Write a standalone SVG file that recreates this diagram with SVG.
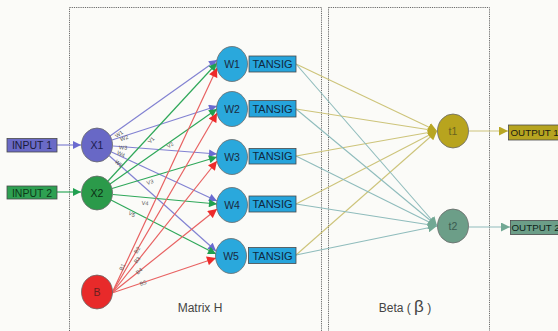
<svg xmlns="http://www.w3.org/2000/svg" width="558" height="331" viewBox="0 0 558 331">
<defs>
<style>
text{font-family:"Liberation Sans",Arial,sans-serif}
.frame{fill:none;stroke:#6a6a6a;stroke-width:1;stroke-dasharray:1.2 1}
.in{stroke:#4a4a4a;stroke-width:0.8}
.nd{stroke:#6a6a6a;stroke-width:0.8}
.lbl{font-size:10.5px;fill:#1a1a3a;text-anchor:middle}
.nl{font-size:10.5px;fill:#1a2a40;text-anchor:middle}
.ts{font-size:11px;fill:#10283c;text-anchor:middle}
.wl{font-size:5.5px;fill:#555;text-anchor:middle}
.cb{stroke:#8282d2;stroke-width:1.2;fill:none;marker-end:url(#mb)}
.cg{stroke:#2fa85a;stroke-width:1.2;fill:none;marker-end:url(#mg)}
.cr{stroke:#e86262;stroke-width:1.2;fill:none;marker-end:url(#mr)}
.co{stroke:#cdc47a;stroke-width:1.1;fill:none;marker-end:url(#mo)}
.ct{stroke:#8fbcbc;stroke-width:1.1;fill:none;marker-end:url(#mt)}
</style>
<marker id="mb" viewBox="0 0 10 10" refX="10" refY="5" markerWidth="9" markerHeight="8" markerUnits="userSpaceOnUse" orient="auto"><path d="M0,0L10,5L0,10z" fill="#6a6ad0"/></marker>
<marker id="mg" viewBox="0 0 10 10" refX="10" refY="5" markerWidth="9" markerHeight="8" markerUnits="userSpaceOnUse" orient="auto"><path d="M0,0L10,5L0,10z" fill="#20a050"/></marker>
<marker id="mr" viewBox="0 0 10 10" refX="10" refY="5" markerWidth="10" markerHeight="9" markerUnits="userSpaceOnUse" orient="auto"><path d="M0,0L10,5L0,10z" fill="#ee2a2a"/></marker>
<marker id="mo" viewBox="0 0 10 10" refX="10" refY="5" markerWidth="9" markerHeight="9" markerUnits="userSpaceOnUse" orient="auto"><path d="M0,0L10,5L0,10z" fill="#b8a624"/></marker>
<marker id="mt" viewBox="0 0 10 10" refX="10" refY="5" markerWidth="9" markerHeight="9" markerUnits="userSpaceOnUse" orient="auto"><path d="M0,0L10,5L0,10z" fill="#72a894"/></marker>
</defs>
<rect x="0" y="0" width="558" height="331" fill="#fbfbf8"/>
<rect class="frame" x="69.5" y="7.5" width="252" height="330"/>
<rect class="frame" x="328.5" y="7.5" width="161" height="330"/>
<text x="200" y="312" style="font-size:12px;fill:#444;text-anchor:middle">Matrix H</text>
<text x="405" y="312" style="font-size:12px;fill:#444;text-anchor:middle">Beta ( <tspan style="font-size:17px">β</tspan> )</text>

<g id="connectors">
<line class="cb" x1="57" y1="145" x2="81" y2="145"/>
<line class="cg" x1="57" y1="192" x2="81" y2="192"/>
<line class="cb" x1="110" y1="136" x2="217" y2="60"/>
<line class="cb" x1="112" y1="140" x2="217" y2="106"/>
<line class="cb" x1="113" y1="146" x2="217" y2="154"/>
<line class="cb" x1="111.5" y1="152" x2="217" y2="201"/>
<line class="cb" x1="109" y1="155.5" x2="216" y2="251"/>
<line class="cg" x1="108" y1="181" x2="217" y2="63"/>
<line class="cg" x1="110" y1="184" x2="217" y2="109"/>
<line class="cg" x1="112" y1="188.5" x2="217" y2="157"/>
<line class="cg" x1="113" y1="194.5" x2="217" y2="204"/>
<line class="cg" x1="111" y1="200" x2="216" y2="254"/>
<line class="cr" x1="112" y1="293" x2="217" y2="68"/>
<line class="cr" x1="112" y1="293" x2="217" y2="113"/>
<line class="cr" x1="112" y1="293" x2="217" y2="161"/>
<line class="cr" x1="112" y1="293" x2="217" y2="209"/>
<line class="cr" x1="112" y1="293" x2="216" y2="258"/>
<line class="co" x1="296" y1="64" x2="437" y2="131"/>
<line class="co" x1="296" y1="109" x2="437" y2="131"/>
<line class="co" x1="296" y1="156" x2="437" y2="131"/>
<line class="co" x1="296" y1="204" x2="437" y2="131"/>
<line class="co" x1="296" y1="255" x2="437" y2="131"/>
<line class="ct" x1="296" y1="64" x2="437" y2="226"/>
<line class="ct" x1="296" y1="109" x2="437" y2="226"/>
<line class="ct" x1="296" y1="156" x2="437" y2="226"/>
<line class="ct" x1="296" y1="204" x2="437" y2="226"/>
<line class="ct" x1="296" y1="255" x2="437" y2="226"/>
<line class="co" x1="469" y1="131" x2="508" y2="131"/>
<line class="ct" x1="469" y1="227" x2="510" y2="227"/>
<text class="wl" transform="translate(119,134) rotate(-35)" y="2">W1</text>
<text class="wl" transform="translate(124,138) rotate(-18)" y="2">W2</text>
<text class="wl" transform="translate(123,147.5) rotate(4)" y="2">W3</text>
<text class="wl" transform="translate(121,154) rotate(25)" y="2">W4</text>
<text class="wl" transform="translate(119,163.5) rotate(42)" y="2">W5</text>
<text class="wl" transform="translate(151,140) rotate(-47)" y="2">V1</text>
<text class="wl" transform="translate(170,145) rotate(-35)" y="2">V2</text>
<text class="wl" transform="translate(150,182) rotate(-17)" y="2">V3</text>
<text class="wl" transform="translate(145,203) rotate(5)" y="2">V4</text>
<text class="wl" transform="translate(132,214) rotate(27)" y="2">V5</text>
<text class="wl" transform="translate(122,267) rotate(-65)" y="2">B1</text>
<text class="wl" transform="translate(137,250) rotate(-60)" y="2">B2</text>
<text class="wl" transform="translate(137,260) rotate(-51)" y="2">B3</text>
<text class="wl" transform="translate(139,271) rotate(-39)" y="2">B4</text>
<text class="wl" transform="translate(143,283) rotate(-19)" y="2">B5</text>
</g>

<g id="input1"><rect class="in" x="7" y="138.5" width="50" height="13.5" fill="#6a6ac6"/><text class="lbl" x="32" y="149">INPUT 1</text></g>
<g id="input2"><rect class="in" x="7" y="186" width="50" height="13" fill="#2ea052"/><text class="lbl" x="32" y="196.5" style="fill:#0d3a18">INPUT 2</text></g>

<g id="x1"><ellipse class="nd" cx="97" cy="145" rx="15.5" ry="17" fill="#6868c6"/><text class="nl" x="97" y="149" style="fill:#1c1c50">X1</text></g>
<g id="x2"><ellipse class="nd" cx="97" cy="193" rx="15.5" ry="17" fill="#2b9a4a"/><text class="nl" x="97" y="197" style="fill:#0b2e14">X2</text></g>
<g id="b"><ellipse class="nd" cx="97" cy="292" rx="15.5" ry="17" fill="#e82a2a"/><text class="nl" x="97" y="296" style="fill:#6a2020">B</text></g>

<g id="w1"><ellipse class="nd" cx="232" cy="64" rx="15.5" ry="17.5" fill="#2aa8dc"/><text class="nl" x="232" y="68">W1</text><rect class="in" x="249" y="56" width="47" height="16" fill="#26a4dc"/><text class="ts" x="272.5" y="68">TANSIG</text></g>
<g id="w2"><ellipse class="nd" cx="232" cy="109" rx="15.5" ry="17.5" fill="#2aa8dc"/><text class="nl" x="232" y="113">W2</text><rect class="in" x="249" y="100.5" width="47" height="16.5" fill="#26a4dc"/><text class="ts" x="272.5" y="112.5">TANSIG</text></g>
<g id="w3"><ellipse class="nd" cx="232" cy="157" rx="15.5" ry="17.5" fill="#2aa8dc"/><text class="nl" x="232" y="161">W3</text><rect class="in" x="249" y="148.5" width="47" height="15.5" fill="#26a4dc"/><text class="ts" x="272.5" y="160">TANSIG</text></g>
<g id="w4"><ellipse class="nd" cx="232" cy="205" rx="15.5" ry="17.5" fill="#2aa8dc"/><text class="nl" x="232" y="209">W4</text><rect class="in" x="249" y="196" width="47" height="16" fill="#26a4dc"/><text class="ts" x="272.5" y="208">TANSIG</text></g>
<g id="w5"><ellipse class="nd" cx="231" cy="256" rx="15.5" ry="17.5" fill="#2aa8dc"/><text class="nl" x="231" y="260">W5</text><rect class="in" x="248.5" y="247.5" width="47.5" height="16" fill="#26a4dc"/><text class="ts" x="272.5" y="259.5">TANSIG</text></g>

<g id="t1"><ellipse class="nd" cx="453" cy="131" rx="15.5" ry="17" fill="#b8a41e"/><text class="nl" x="453" y="135" style="fill:#6a6420">t1</text></g>
<g id="t2"><ellipse class="nd" cx="453" cy="226" rx="15.5" ry="17" fill="#6c9e88"/><text class="nl" x="453" y="230" style="fill:#3a5a50">t2</text></g>

<g id="output1"><rect class="in" x="508.5" y="125" width="52" height="15" fill="#b6a420"/><text x="510.5" y="136" style="font-size:9.8px;fill:#1a1a10">OUTPUT 1</text></g>
<g id="output2"><rect class="in" x="510.5" y="220.5" width="52" height="14" fill="#6c9e88"/><text x="511.5" y="231" style="font-size:9.8px;fill:#0e1e18">OUTPUT 2</text></g>
</svg>
